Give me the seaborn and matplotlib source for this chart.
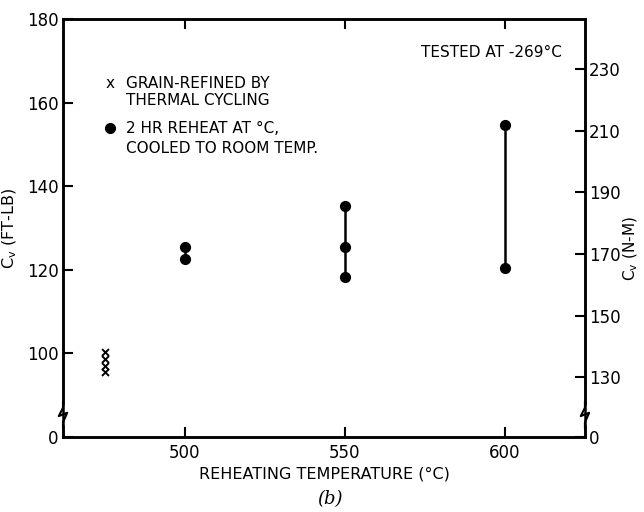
import matplotlib
matplotlib.use("Agg")
import matplotlib.pyplot as plt
import seaborn as sns
import pandas as pd
import numpy as np

# ---- data ----
grain_temp = [475, 475, 475, 475]
grain_cv = [100.3, 98.6, 97.0, 95.5]

reheat_temp = [500, 500, 550, 550, 550, 600, 600]
reheat_cv = [125.5, 122.5, 135.2, 125.4, 118.2, 154.7, 120.5]

x_ticks = [500, 550, 600]
left_ticks = [80, 100, 120, 140, 160, 180]
left_labels = ["0", "100", "120", "140", "160", "180"]
right_ticks = [130, 150, 170, 190, 210, 230]
right_labels = ["130", "150", "170", "190", "210", "230"]

FTLB_TO_NM = 1.3558
NM_OFFSET = 2.2

sns.set_style("ticks")
plt.rcParams['font.family'] = ['DejaVu Sans']
plt.rcParams['text.color'] = 'black'
plt.rcParams['axes.labelcolor'] = 'black'
plt.rcParams['xtick.color'] = 'black'
plt.rcParams['ytick.color'] = 'black'

fig = plt.figure(figsize=(6.44, 5.12), dpi=100)
ax = fig.add_axes([0.0978, 0.1465, 0.8105, 0.8165])

df_r = pd.DataFrame({"T": reheat_temp, "Cv": reheat_cv})
df_g = pd.DataFrame({"T": grain_temp, "Cv": grain_cv})

# vertical range lines
rng = df_r.groupby("T")["Cv"].agg(["min", "max"]).reset_index()
ax.vlines(rng["T"], rng["min"], rng["max"], color="black", lw=1.8, zorder=2)

sns.scatterplot(data=df_r, x="T", y="Cv", ax=ax, color="black", s=65,
                edgecolor="black", linewidth=0, zorder=3, legend=False)
sns.scatterplot(data=df_g, x="T", y="Cv", ax=ax, color="black", marker="x",
                s=25, linewidth=1.4, zorder=3, legend=False)

ax.set_xlim(462, 625)
ax.set_ylim(80, 180)
ax.set_xticks(x_ticks)
ax.set_yticks(left_ticks)
ax.set_yticklabels(left_labels)
ax.tick_params(axis="both", direction="in", length=7, width=1.5, labelsize=12,
               top=True, colors="black")
ax.tick_params(axis="y", pad=3)
ax.tick_params(axis="x", pad=5)
for s in ax.spines.values():
    s.set_linewidth(1.8)
    s.set_color("black")

ax.set_xlabel("REHEATING TEMPERATURE (°C)", fontsize=11.5, labelpad=3, color="black")
ax.set_ylabel(r"C$_{\mathrm{v}}$ (FT-LB)", fontsize=11.5, labelpad=6, color="black")

# right axis in N-m
ax2 = ax.twinx()
ax2.set_ylim(80 * FTLB_TO_NM + NM_OFFSET, 180 * FTLB_TO_NM + NM_OFFSET)
lo = 80 * FTLB_TO_NM + NM_OFFSET
ax2.set_yticks([lo] + right_ticks)
ax2.set_yticklabels(["0"] + right_labels)
ax2.tick_params(axis="y", direction="in", length=7, width=1.5, labelsize=12, pad=3,
                colors="black")
ax2.set_ylabel(r"C$_{\mathrm{v}}$ (N-M)", fontsize=11, color="black", va="center",
               ha="center")
ax2.yaxis.set_label_coords(1.088, 0.45)
for s in ax2.spines.values():
    s.set_linewidth(1.8)
    s.set_color("black")

# axis break marks
for xb in (0.0, 1.0):
    ax.plot([xb, xb], [0.03, 0.072], transform=ax.transAxes, color="white", lw=3,
            clip_on=False, zorder=5)
    ax.plot([xb, xb, xb + 0.008, xb - 0.008, xb, xb],
            [0.02, 0.035, 0.058, 0.05, 0.07, 0.085],
            transform=ax.transAxes, color="black", lw=1.5, clip_on=False, zorder=6)

# annotations
ax.text(0.09, 0.845, "x", transform=ax.transAxes, fontsize=11, va="center", ha="center")
ax.text(0.12, 0.845, "GRAIN-REFINED BY", transform=ax.transAxes, fontsize=11, va="center")
ax.text(0.12, 0.805, "THERMAL CYCLING", transform=ax.transAxes, fontsize=11, va="center")
ax.plot([0.09], [0.738], transform=ax.transAxes, marker="o", color="black", ms=7)
ax.text(0.12, 0.738, "2 HR REHEAT AT °C,", transform=ax.transAxes, fontsize=11, va="center")
ax.text(0.12, 0.69, "COOLED TO ROOM TEMP.", transform=ax.transAxes, fontsize=11, va="center")
ax.text(0.955, 0.92, "TESTED AT -269°C", transform=ax.transAxes, fontsize=11,
        va="center", ha="right")

fig.text(0.513, 0.025, "(b)", fontsize=13, style="italic", family="DejaVu Serif",
         ha="center", va="center")

fig.savefig("out.png", dpi=100)
